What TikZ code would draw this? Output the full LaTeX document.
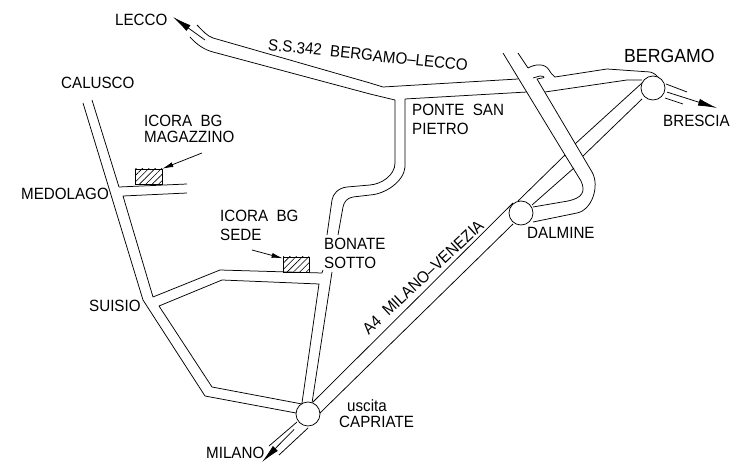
\documentclass[tikz,border=0pt]{standalone}
\usepackage{fontspec}
\setmainfont[FakeStretch=0.93]{Liberation Sans}
\usetikzlibrary{arrows.meta,patterns.meta}
\tikzset{
  road/.style={line width=0.75pt, line join=round},
  svincolo/.style={draw, circle, fill=white, line width=0.75pt, minimum size=24pt, inner sep=0pt},
  sede/.style={draw, line width=0.75pt, pattern={Lines[angle=45,distance=4.5pt,line width=0.6pt]}},
  luogo/.style={anchor=west, inner sep=0pt, font=\fontsize{16.3}{17}\selectfont},
  freccia/.style={line width=0.75pt, -{Latex[length=19pt,width=7pt]}},
  frecciasede/.style={line width=0.75pt, -{Latex[length=11pt,width=5pt]}}
}

\begin{document}
\begin{tikzpicture}[x=1pt,y=-1pt]
        \useasboundingbox (0,0) rectangle (740,470);

        % strada Lecco - Bergamo
        \draw[road] (197,25) .. controls (203,31) and (207,36) .. (213,38) -- (370,83) -- (383,87) -- (518,79);
        \draw[road] (190,37) .. controls (197,45) and (205,50) .. (213,52) -- (370,94) -- (395,100) -- (395,163)
            .. controls (395,175) and (382,184) .. (370,185) -- (347,187) .. controls (338,188) and (333,194) .. (332,200) -- (327,235);
        \draw[road] (405,99) -- (527,92);
        \draw[road] (405,99) -- (405,167) .. controls (404,181) and (386,194) .. (370,195) -- (353,197)
            .. controls (347,198) and (344,202) .. (343,207) -- (338,235);
        \draw[road] (528,68) .. controls (535,64) and (545,63) .. (549,70) .. controls (551,73) and (552,75) .. (555,77)
            -- (607,69) -- (650,72) .. controls (654,73) and (657,75) .. (660,80);
        \draw[road] (545,92) -- (627,80) -- (642,80);

        % raccordo per Dalmine
        \draw[road] (503,53) -- (565,155) -- (581,181) .. controls (586,192) and (582,198) .. (568,201) -- (533,207);
        \draw[road] (518,53) -- (528,68);
        \draw[road] (533,78) -- (540,76) .. controls (545,76) and (545,78) .. (542,78) -- (537,79) -- (592,172)
            .. controls (600,186) and (592,210) .. (577,213) -- (533,222);

        % autostrada A4
        \draw[road] (313,402) -- (513,203);
        \draw[road] (320,413) -- (513,224);
        \draw[road] (518,201) -- (565,155);
        \draw[road] (532,205) -- (574,168);
        \draw[road] (575,144) -- (642,83);
        \draw[road] (583,156) -- (642,99);
        \draw[road] (666,84) -- (687,92);
        \draw[road] (665,98) -- (683,104);
        \draw[road] (297,422) -- (269,446);
        \draw[road] (308,428) -- (279,455);

        % strada Calusco - Capriate
        \draw[road] (83,103) -- (143,300) -- (205,396) -- (296,413);
        \draw[road] (92,100) -- (119,187) -- (187,184);
        \draw[road] (187,193) -- (123,196) -- (153,297) -- (220,270) -- (322,273) -- (323,270);
        \draw[road] (159,306) -- (222,280) -- (319,284) -- (302,403);
        \draw[road] (159,306) -- (212,387) -- (302,404);
        \draw[road] (332,272) -- (312,403);

        \node[svincolo] (bergamo) at (653,88) {};
        \node[svincolo] (dalmine) at (521,213) {};
        \node[svincolo] (capriate) at (308,414) {};

        \node[sede, minimum width=27pt, minimum height=15pt, inner sep=0pt] (magazzino) at (148.5,176.5) {};
        \node[sede, minimum width=26pt, minimum height=15pt, inner sep=0pt] (sedebox) at (296,264.5) {};

        \coordinate (codalecco) at (205,40);
        \coordinate (puntalecco) at (173,17);
        \coordinate (puntabrescia) at (717,108);
        \coordinate (puntamilano) at (262,462);
        \coordinate (codamag) at (202,153);
        \coordinate (codasede) at (252,250);

        \draw[freccia] (codalecco) -- (puntalecco);
        \draw[freccia] (bergamo.-10) ++(2,2) -- (puntabrescia);
        \draw[freccia] (capriate.-130) ++(-6,6) -- (puntamilano);
        \draw[frecciasede] (codamag) -- (magazzino.north east);
        \draw[frecciasede] (codasede) -- (sedebox.155);

        \node[luogo] (lecco) at (115,20) {LECCO};
        \node[luogo] (calusco) at (61,83) {CALUSCO};
        \node[luogo] (icoramag) at (144,121) {ICORA\ \ BG};
        \node[luogo] (magtxt) at (144,137) {MAGAZZINO};
        \node[luogo] (medolago) at (21,194) {MEDOLAGO};
        \node[luogo] (icorasede) at (220,216) {ICORA\ \ BG};
        \node[luogo] (sedetxt) at (220,235) {SEDE};
        \node[luogo] (bonate) at (324,244) {BONATE};
        \node[luogo] (sotto) at (324,263) {SOTTO};
        \node[luogo] (suisio) at (89,306) {SUISIO};
        \node[luogo] (milano) at (206,453) {MILANO};
        \node[luogo] (uscita) at (347,406) {uscita};
        \node[luogo] (capriatetxt) at (339,422) {CAPRIATE};
        \node[luogo] (ponte) at (412,110) {PONTE\ \ SAN};
        \node[luogo] (pietro) at (412,129) {PIETRO};
        \node[luogo] (dalminetxt) at (527,233) {DALMINE};
        \node[luogo, font=\fontsize{19}{19}\selectfont] (bergamotxt) at (624,56) {BERGAMO};
        \node[luogo] (brescia) at (663,121) {BRESCIA};
        \node[luogo, anchor=center, rotate=-6] (ss) at (368,55) {S.S.342\ \ BERGAMO--LECCO};
        \node[luogo, anchor=center, rotate=43] (a4) at (423,277) {A4\ \ MILANO--VENEZIA};
\end{tikzpicture}
\end{document}
